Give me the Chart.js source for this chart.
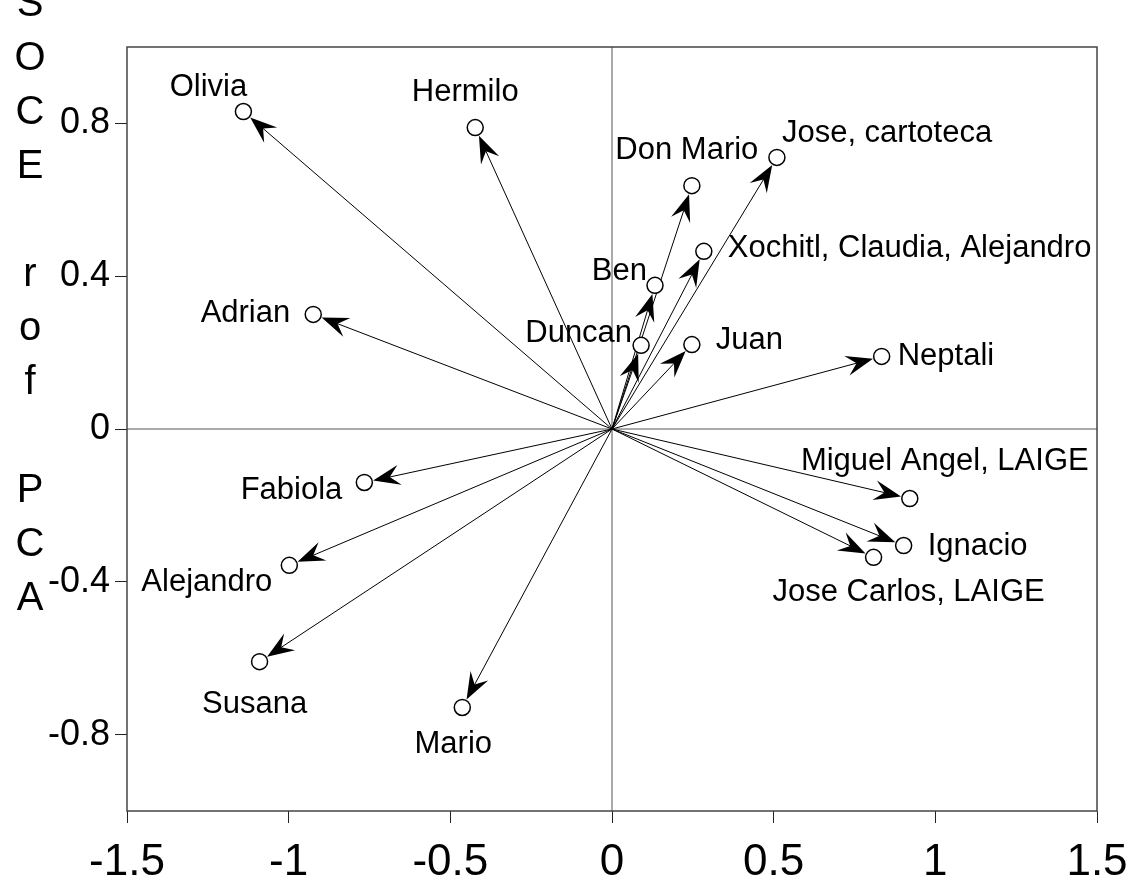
<!DOCTYPE html>
<html>
<head>
<meta charset="utf-8">
<script src="https://cdn.jsdelivr.net/npm/chart.js@4"></script>
<style>
html, body { margin: 0; padding: 0; background: #fff; }
</style>
</head>
<body>
<canvas id="chart" width="1130" height="890"></canvas>
<script>
// datos del biplot
const names = ['Olivia', 'Hermilo', 'Don Mario', 'Jose, cartoteca', 'Xochitl, Claudia, Alejandro',
    'Ben', 'Duncan', 'Juan', 'Neptali', 'Adrian', 'Fabiola', 'Alejandro', 'Susana', 'Mario',
    'Miguel Angel, LAIGE', 'Ignacio', 'Jose Carlos, LAIGE'];
const xVals = [-1.14, -0.423, 0.247, 0.51, 0.284, 0.133, 0.09, 0.247, 0.834, -0.924, -0.766, -0.998, -1.09, -0.463, 0.921, 0.902, 0.809];
const yVals = [0.831, 0.789, 0.637, 0.711, 0.465, 0.376, 0.219, 0.221, 0.19, 0.30, -0.14, -0.357, -0.609, -0.729, -0.182, -0.305, -0.336];
const xTicks = [-1.5, -1, -0.5, 0, 0.5, 1, 1.5];
const yTicks = [-0.8, -0.4, 0, 0.4, 0.8];
const yTitle = ['S', 'O', 'C', 'E', '', 'r', 'o', 'f', '', 'P', 'C', 'A'];

// posicion de cada etiqueta respecto al punto (dx, dy, alineacion)
const labelPos = [
    [-35, -24, 'center'], [-10, -35, 'center'], [-5, -35, 'center'], [5, -24, 'left'],
    [24, -3, 'left'], [-8, -14, 'right'], [-9, -12, 'right'], [24, -4, 'left'],
    [16, 0, 'left'], [-23, -1, 'right'], [-22, 8, 'right'], [-17, 17, 'right'],
    [-5, 43, 'center'], [-9, 37, 'center'], [35, -37, 'center'], [24, 1, 'left'],
    [35, 35, 'center']
];

const FONT = '"Liberation Sans", Arial, sans-serif';

// ejes del origen, caja y flechas
const arrowPlugin = {
    id: 'arrows',
    beforeDatasetsDraw(chart) {
        const ctx = chart.ctx;
        const a = chart.chartArea;
        const x0 = chart.scales.x.getPixelForValue(0);
        const y0 = chart.scales.y.getPixelForValue(0);
        ctx.save();
        ctx.strokeStyle = '#555';
        ctx.lineWidth = 1;
        ctx.beginPath();
        ctx.moveTo(x0, a.top); ctx.lineTo(x0, a.bottom);
        ctx.moveTo(a.left, y0); ctx.lineTo(a.right, y0);
        ctx.stroke();
        ctx.strokeStyle = '#444';
        ctx.lineWidth = 1.5;
        ctx.strokeRect(a.left, a.top, a.right - a.left, a.bottom - a.top);

        chart.getDatasetMeta(0).data.forEach(function(pt) {
            const dx = pt.x - x0, dy = pt.y - y0;
            const len = Math.hypot(dx, dy);
            const ux = dx / len, uy = dy / len;
            const nx = -uy, ny = ux;
            const tx = pt.x - ux * 9, ty = pt.y - uy * 9;
            ctx.strokeStyle = '#000';
            ctx.lineWidth = 1;
            ctx.beginPath();
            ctx.moveTo(x0, y0);
            ctx.lineTo(tx - ux * 12, ty - uy * 12);
            ctx.stroke();
            const L = 27, W = 10, N = 17;
            const bx = tx - ux * L, by = ty - uy * L;
            ctx.fillStyle = '#000';
            ctx.beginPath();
            ctx.moveTo(tx, ty);
            ctx.lineTo(bx + nx * W, by + ny * W);
            ctx.lineTo(tx - ux * N, ty - uy * N);
            ctx.lineTo(bx - nx * W, by - ny * W);
            ctx.closePath();
            ctx.fill();
        });
        ctx.restore();
    },
    afterDatasetsDraw(chart) {
        const ctx = chart.ctx;
        ctx.save();
        ctx.fillStyle = '#000';
        ctx.font = '31px ' + FONT;
        ctx.textBaseline = 'middle';
        chart.getDatasetMeta(0).data.forEach(function(pt, i) {
            const p = labelPos[i];
            ctx.textAlign = p[2];
            ctx.fillText(names[i], pt.x + p[0], pt.y + p[1]);
        });
        // titulo del eje Y, letras apiladas
        ctx.font = '40px ' + FONT;
        ctx.textAlign = 'center';
        ctx.textBaseline = 'alphabetic';
        yTitle.forEach(function(ch, i) {
            ctx.fillText(ch, 30, 610 - (yTitle.length - 1 - i) * 54);
        });
        ctx.restore();
    }
};

new Chart(document.getElementById('chart'), {
    type: 'scatter',
    data: {
        datasets: [{
            data: xVals.map(function(v, i) { return {x: v, y: yVals[i]}; }),
            pointStyle: 'circle',
            pointRadius: 8,
            pointBackgroundColor: '#fff',
            pointBorderColor: '#000',
            pointBorderWidth: 1.5
        }]
    },
    options: {
        responsive: false,
        animation: false,
        layout: { padding: { top: 47, right: 33, left: 0, bottom: 0 } },
        plugins: { legend: { display: false }, tooltip: { enabled: false } },
        scales: {
            x: {
                type: 'linear', min: -1.5, max: 1.5,
                afterBuildTicks: function(s) { s.ticks = xTicks.map(function(v) { return {value: v}; }); },
                afterFit: function(s) { s.height = 79; s.paddingLeft = 0; s.paddingRight = 0; },
                ticks: { color: '#000', font: { size: 44, family: FONT }, padding: 13, maxRotation: 0,
                    callback: function(v) { return String(v); } },
                grid: { drawOnChartArea: false, drawTicks: true, tickLength: 12, color: '#222' },
                border: { display: false }
            },
            y: {
                type: 'linear', min: -1, max: 1,
                afterBuildTicks: function(s) { s.ticks = yTicks.map(function(v) { return {value: v}; }); },
                afterFit: function(s) { s.width = 127; s.paddingTop = 0; s.paddingBottom = 0; },
                ticks: { color: '#000', font: { size: 36, family: FONT }, padding: 5,
                    callback: function(v) { return String(v); } },
                grid: { drawOnChartArea: false, drawTicks: true, tickLength: 12, color: '#222' },
                border: { display: false }
            }
        }
    },
    plugins: [arrowPlugin]
});
</script>
</body>
</html>
